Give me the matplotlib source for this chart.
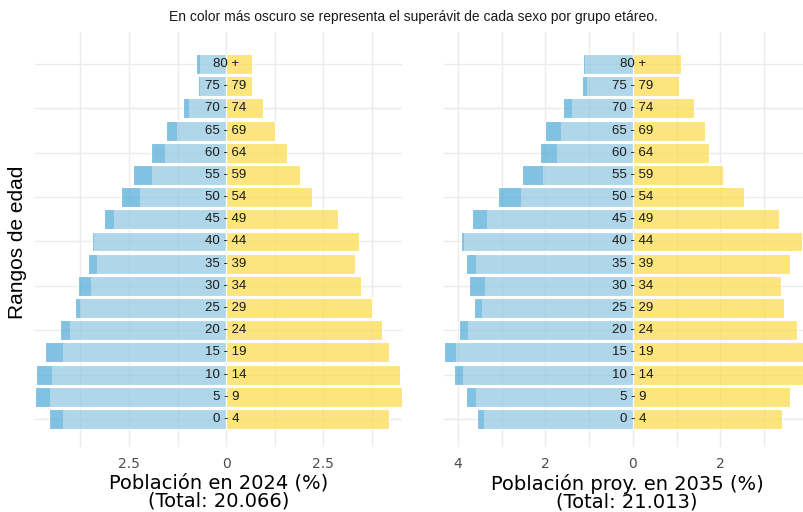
import matplotlib
matplotlib.use("Agg")
import matplotlib.pyplot as plt
import numpy as np

# ---------------- data ----------------
age_groups = ["0 - 4", "5 - 9", "10 - 14", "15 - 19", "20 - 24", "25 - 29",
              "30 - 34", "35 - 39", "40 - 44", "45 - 49", "50 - 54", "55 - 59",
              "60 - 64", "65 - 69", "70 - 74", "75 - 79", "80 +"]

men_2024 = [4.55, 4.92, 4.89, 4.66, 4.28, 3.89, 3.81, 3.56, 3.44, 3.14,
            2.71, 2.39, 1.93, 1.55, 1.10, 0.73, 0.78]
women_2024 = [4.19, 4.53, 4.48, 4.19, 4.01, 3.75, 3.47, 3.32, 3.41, 2.88,
              2.21, 1.90, 1.56, 1.27, 0.96, 0.66, 0.68]

men_2035 = [3.57, 3.81, 4.08, 4.32, 3.97, 3.63, 3.75, 3.81, 3.93, 3.67,
            3.09, 2.54, 2.13, 2.01, 1.59, 1.17, 1.13]
women_2035 = [3.41, 3.59, 3.89, 4.05, 3.76, 3.45, 3.39, 3.59, 3.86, 3.34,
              2.55, 2.06, 1.74, 1.65, 1.39, 1.05, 1.10]

ticks_2024 = [-2.5, 0, 2.5]
minor_2024 = [-3.75, -1.25, 1.25, 3.75]
ticks_2035 = [-4, -2, 0, 2, 4]
minor_2035 = [-3, -1, 1, 3]

xlabel_2024 = "Población en 2024 (%)\n(Total: 20.066)"
xlabel_2035 = "Población proy. en 2035 (%)\n(Total: 21.013)"
title = "En color más oscuro se representa el superávit de cada sexo por grupo etáreo."
ylabel = "Rangos de edad"

# ---------------- style ----------------
BLUE_LIGHT = "#8ec7e1"
BLUE_DARK = "#4ca8d6"
YELLOW_LIGHT = "#fcdb45"
YELLOW_DARK = "#f5c400"
ALPHA = 0.7
GRID = "#ebebeb"

fig = plt.figure(figsize=(8.04, 5.12), dpi=100)

W, H = 804.0, 512.0
top_px, bot_px = 32.0, 447.0


def make_axes(x0, x1):
    return fig.add_axes([x0 / W, (H - bot_px) / H, (x1 - x0) / W, (bot_px - top_px) / H])


def draw_panel(ax, men, women, ticks, minor, xlabel):
    men = np.asarray(men)
    women = np.asarray(women)
    y = np.arange(len(age_groups))
    h = 0.9
    # grid
    for t in list(ticks) + list(minor):
        ax.axvline(t, color=GRID, lw=1.0, zorder=0)
    for yi in y[::2]:
        ax.axhline(yi, color=GRID, lw=1.0, zorder=0)
    common = np.minimum(men, women)
    # men (left, negative)
    ax.barh(y, -common, height=h, color=BLUE_LIGHT, alpha=ALPHA, lw=0, zorder=2)
    ax.barh(y, -(men - common) * (men > women), left=-common,
            height=h, color=BLUE_DARK, alpha=ALPHA, lw=0, zorder=2)
    # women (right, positive)
    ax.barh(y, common, height=h, color=YELLOW_LIGHT, alpha=ALPHA, lw=0, zorder=2)
    ax.barh(y, (women - common) * (women > men), left=common,
            height=h, color=YELLOW_DARK, alpha=ALPHA, lw=0, zorder=2)
    # white outlines
    ax.barh(y, -men, height=h, facecolor="none", edgecolor="white", lw=0.8, zorder=3)
    ax.barh(y, women, height=h, facecolor="none", edgecolor="white", lw=0.8, zorder=3)
    # age labels
    for yi, lab in zip(y, age_groups):
        ax.text(0, yi, lab, ha="center", va="center", fontsize=9.5,
                family="Liberation Sans", color="#1a1a1a", zorder=4)
    ax.set_xlim(-men.max(), women.max())
    ax.set_ylim(-1.26, 17.44)
    ax.set_xticks(ticks)
    ax.set_xticklabels([f"{abs(t):g}" for t in ticks])
    ax.set_yticks([])
    ax.tick_params(axis="x", length=0, pad=7, labelsize=10, labelcolor="#4d4d4d")
    for s in ax.spines.values():
        s.set_visible(False)
    ax.set_xlabel(xlabel, fontsize=14, labelpad=2, linespacing=0.95, color="black")


ax1 = make_axes(35, 402)
ax2 = make_axes(444, 810)
draw_panel(ax1, men_2024, women_2024, ticks_2024, minor_2024, xlabel_2024)
draw_panel(ax2, men_2035, women_2035, ticks_2035, minor_2035, xlabel_2035)

fig.text(413 / W, 1 - 17 / H, title, ha="center", va="center", fontsize=10,
         family="Liberation Sans", color="#1a1a1a")
fig.text(18 / W, 1 - 242 / H, ylabel, ha="center", va="center", rotation=90,
         fontsize=15, family="Liberation Sans", color="black")

fig.savefig("out.png", dpi=100, facecolor="white")
